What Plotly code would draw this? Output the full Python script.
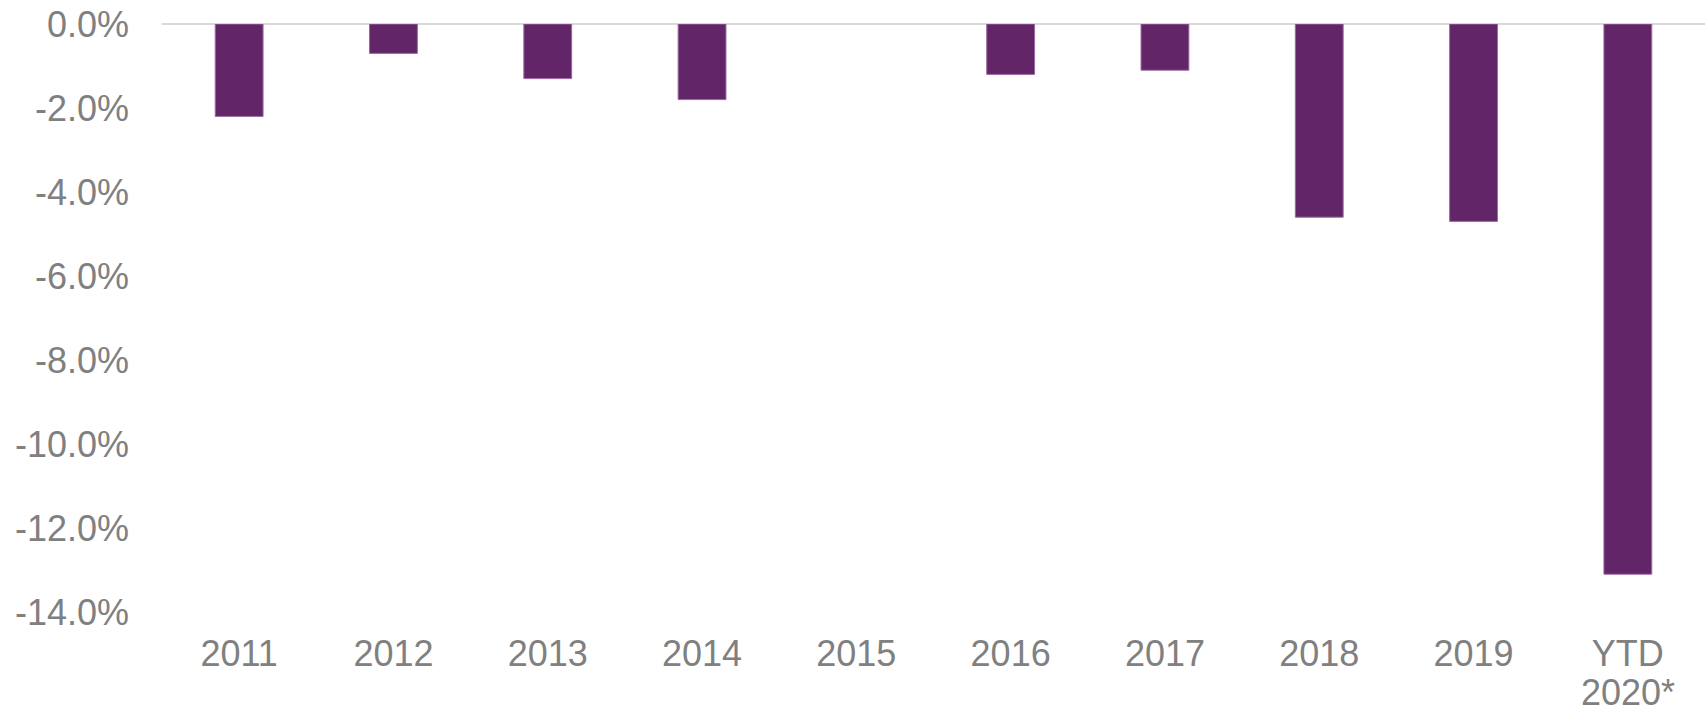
import plotly.graph_objects as go

categories = ["2011", "2012", "2013", "2014", "2015", "2016", "2017", "2018", "2019", "YTD 2020*"]
tick_text = ["2011", "2012", "2013", "2014", "2015", "2016", "2017", "2018", "2019", "YTD"]
last_label_second_line = "2020*"
values = [-2.2, -0.7, -1.3, -1.8, 0.0, -1.2, -1.1, -4.6, -4.7, -13.1]
y_tick_vals = [0, -2, -4, -6, -8, -10, -12, -14]
y_tick_text = ["0.0%", "-2.0%", "-4.0%", "-6.0%", "-8.0%", "-10.0%", "-12.0%", "-14.0%"]

outline_widths = [1 if v != 0 else 0 for v in values]

fig = go.Figure(go.Bar(
    x=categories, y=values,
    marker=dict(color="#622567", line=dict(color="#9c6aa0", width=outline_widths)),
    width=0.31,
))
font = dict(family="Liberation Sans, Arial, sans-serif", size=36, color="#808080")
fig.update_layout(
    width=1705, height=711,
    margin=dict(l=162, r=0, t=24, b=99),
    plot_bgcolor="white", paper_bgcolor="white",
    showlegend=False,
    font=font,
    bargap=0.69,
)
fig.add_annotation(x=categories[-1], xref="x", y=0, yref="paper", yanchor="middle",
                   yshift=-80, text=last_label_second_line, showarrow=False, font=font)
fig.update_xaxes(showgrid=False, showline=False, ticks="", tickfont=font,
                 tickvals=categories, ticktext=tick_text,
                 ticklabelstandoff=17, automargin=False)
fig.update_yaxes(range=[-14, 0], tickvals=y_tick_vals, ticktext=y_tick_text, showgrid=False,
                 zeroline=True, zerolinecolor="#d9d9d9", zerolinewidth=2,
                 showline=False, ticks="", tickfont=font, ticklabelstandoff=32, automargin=False)
fig.write_html("out.html")
